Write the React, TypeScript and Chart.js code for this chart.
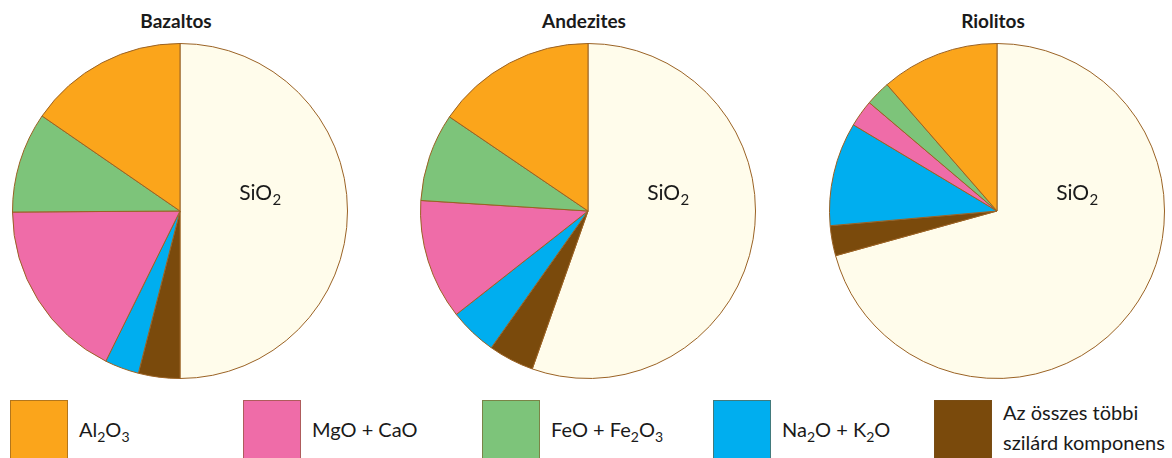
import React, { useEffect, useRef } from "react";
import { Chart, registerables } from "chart.js";

Chart.register(...registerables);

// Slice order, clockwise from 12 o'clock
const components = [
  "SiO2",
  "Az összes többi szilárd komponens",
  "Na2O + K2O",
  "MgO + CaO",
  "FeO + Fe2O3",
  "Al2O3",
];

const rockTypes = ["Bazaltos", "Andezites", "Riolitos"];

// Percent composition of each rock type (same order as components)
const bazaltos = [50.0, 4.0, 3.3, 17.6, 9.7, 15.4];
const andezites = [55.4, 4.4, 4.6, 11.6, 8.5, 15.5];
const riolitos = [70.7, 2.9, 10.0, 2.6, 2.4, 11.4];

const sliceColors = ["#FFFCEB", "#7A4A0C", "#00AEEF", "#EF6CA8", "#7DC47A", "#FBA51B"];
const edgeColor = "#9A6224";

// Legend entries: colour index into sliceColors + label parts (text, subscript)
type Part = [string, boolean];
const legendItems: { color: number; lines: Part[][] }[] = [
  { color: 5, lines: [[["Al", false], ["2", true], ["O", false], ["3", true]]] },
  { color: 3, lines: [[["MgO + CaO", false]]] },
  { color: 4, lines: [[["FeO + Fe", false], ["2", true], ["O", false], ["3", true]]] },
  { color: 2, lines: [[["Na", false], ["2", true], ["O + K", false], ["2", true], ["O", false]]] },
  { color: 1, lines: [[["Az összes többi", false]], [["szilárd komponens", false]]] },
];

const FONT = "Lato, 'Open Sans', 'DejaVu Sans', sans-serif";

// Draws the "SiO₂" caption inside the SiO2 slice
const sioLabel = {
  id: "sioLabel",
  afterDatasetsDraw(chart: any) {
    const arc = chart.getDatasetMeta(0).data[0];
    if (!arc) return;
    const { x, y } = arc.getProps(["x", "y"], true);
    const ctx = chart.ctx;
    const cx = x + 80;
    const cy = y - 18;
    ctx.save();
    ctx.fillStyle = "#1a1a1a";
    ctx.textBaseline = "middle";
    ctx.font = `21px ${FONT}`;
    const main = "SiO";
    const wMain = ctx.measureText(main).width;
    ctx.font = `15px ${FONT}`;
    const wSub = ctx.measureText("2").width;
    const left = cx - (wMain + wSub) / 2;
    ctx.font = `21px ${FONT}`;
    ctx.textAlign = "left";
    ctx.fillText(main, left, cy);
    ctx.font = `15px ${FONT}`;
    ctx.fillText("2", left + wMain + 0.5, cy + 7);
    ctx.restore();
  },
};

function RockPie({ title, values, left }: { title: string; values: number[]; left: number }) {
  const ref = useRef<HTMLCanvasElement | null>(null);
  useEffect(() => {
    if (!ref.current) return;
    const chart = new Chart(ref.current, {
      type: "pie",
      data: {
        labels: components,
        datasets: [
          {
            data: values,
            backgroundColor: sliceColors,
            borderColor: edgeColor,
            borderWidth: 1,
            hoverOffset: 0,
          },
        ],
      },
      options: {
        animation: false,
        responsive: false,
        maintainAspectRatio: false,
        layout: { padding: 0 },
        plugins: {
          legend: { display: false },
          tooltip: { enabled: false },
          title: { display: false },
        },
      },
      plugins: [sioLabel],
    });
    return () => chart.destroy();
  }, [values]);

  return (
    <>
      <div
        style={{
          position: "absolute",
          left: left - 4,
          top: 8,
          width: 336,
          textAlign: "center",
          fontFamily: FONT,
          fontWeight: 700,
          fontSize: 19,
          color: "#1a1a1a",
          lineHeight: "26px",
        }}
      >
        {title}
      </div>
      <canvas
        ref={ref}
        width={336}
        height={336}
        style={{ position: "absolute", left: left, top: 43, width: 336, height: 336 }}
      />
    </>
  );
}

const legendBoxLeft = [10, 243, 482, 713, 934];

export default function App() {
  const series = [bazaltos, andezites, riolitos];
  const pieLefts = [12, 420, 829];
  return (
    <div
      style={{
        position: "absolute",
        left: 0,
        top: 0,
        width: 1172,
        height: 458,
        background: "#ffffff",
        overflow: "hidden",
      }}
    >
      {rockTypes.map((t, i) => (
        <RockPie key={t} title={t} values={series[i]} left={pieLefts[i]} />
      ))}
      {legendItems.map((item, i) => (
        <React.Fragment key={i}>
          <div
            style={{
              position: "absolute",
              left: legendBoxLeft[i],
              top: 400,
              width: 58,
              height: 62,
              background: sliceColors[item.color],
              boxSizing: "border-box",
              border: "1px solid rgba(120,80,30,0.55)",
            }}
          />
          <div
            style={{
              position: "absolute",
              left: legendBoxLeft[i] + 69,
              top: item.lines.length > 1 ? 397 : 414,
              fontFamily: FONT,
              fontSize: 20,
              lineHeight: "30px",
              color: "#1a1a1a",
              whiteSpace: "nowrap",
            }}
          >
            {item.lines.map((line, li) => (
              <div key={li}>
                {line.map(([txt, sub], k) =>
                  sub ? (
                    <span key={k} style={{ fontSize: 14, position: "relative", top: 5 }}>
                      {txt}
                    </span>
                  ) : (
                    <span key={k}>{txt}</span>
                  )
                )}
              </div>
            ))}
          </div>
        </React.Fragment>
      ))}
    </div>
  );
}
